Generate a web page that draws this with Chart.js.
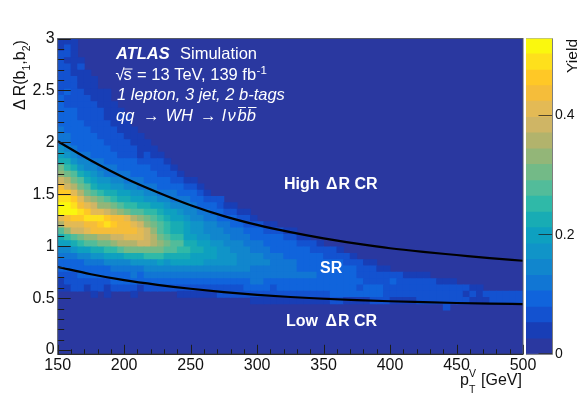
<!DOCTYPE html>
<html>
<head>
<meta charset="utf-8">
<style>
  html, body { margin: 0; padding: 0; background: #fff; }
  canvas { position: absolute; left: 0; top: 0; filter: blur(0.3px); }
</style>
<script src="https://cdn.jsdelivr.net/npm/chart.js@4"></script>
</head>
<body>
<canvas id="myChart" width="581" height="394"></canvas>
<canvas id="scaleChart" width="581" height="394"></canvas>
<script>
// tick values
const xTicks = [150, 200, 250, 300, 350, 400, 450, 500];
const xMinor = [160, 170, 180, 190, 210, 220, 230, 240, 260, 270, 280, 290, 310, 320, 330, 340, 360, 370, 380, 390, 410, 420, 430, 440, 460, 470, 480, 490];
const yTicks = [0, 0.5, 1, 1.5, 2, 2.5, 3];
const yMinor = [0.1, 0.2, 0.3, 0.4, 0.6, 0.7, 0.8, 0.9, 1.1, 1.2, 1.3, 1.4, 1.6, 1.7, 1.8, 1.9, 2.1, 2.2, 2.3, 2.4, 2.6, 2.7, 2.8, 2.9];
const zTicks = [0, 0.2, 0.4];

// colour bands of the yield scale, bottom to top
const levelEdges = [0, 0.026, 0.053, 0.079, 0.106, 0.132, 0.159, 0.185, 0.212, 0.238, 0.265, 0.291, 0.318, 0.344, 0.371, 0.397, 0.424, 0.45, 0.476, 0.503, 0.529];
const levelColors = ["rgb(42,56,160)", "rgb(24,62,182)", "rgb(19,82,208)", "rgb(16,100,220)", "rgb(17,118,212)", "rgb(17,134,205)", "rgb(16,148,200)", "rgb(14,160,192)", "rgb(24,172,180)", "rgb(47,185,168)", "rgb(82,188,154)", "rgb(115,186,135)", "rgb(147,182,120)", "rgb(178,179,108)", "rgb(207,181,101)", "rgb(227,186,85)", "rgb(245,189,58)", "rgb(255,200,38)", "rgb(254,224,28)", "rgb(250,248,14)"];

// the 2 curves between the regions
const curvePt = [150, 175, 200, 225, 250, 275, 300, 325, 350, 375, 400, 425, 450, 475, 500];
const upperCurve = [2.01, 1.825, 1.66, 1.52, 1.395, 1.29, 1.205, 1.135, 1.075, 1.025, 0.98, 0.945, 0.915, 0.885, 0.86];
const lowerCurve = [0.8, 0.73, 0.673, 0.628, 0.59, 0.558, 0.532, 0.511, 0.494, 0.481, 0.47, 0.461, 0.453, 0.447, 0.443];

// histogram: one list per dR bin from the bottom, one colour band per 5 GeV bin from 150 GeV
const yieldRows = [
  [], [], [], [], [], [], [],
  [0,0,0,0,0,0,0,0,0,0,0,0,0,0,0,0,0,0,0,0,0,0,0,0,0,0,0,0,0,0,0,0,0,0,0,0,0,0,0,0,0,0,0,0,0,0,0,0,0,0,0,0,0,0,0,0,0,0,2],
  [0,0,0,0,0,0,0,0,0,0,0,0,0,0,0,0,0,0,0,0,0,0,0,0,0,0,0,0,0,1,1,1,1,1,1,1,1,1,1,1,1,2,2,1,1,1,1,2,2,2,1,1,1,1,2,2,2,2,2,2,2,2,1,1,1,2,2,2,2,2],
  [0,0,0,0,0,1,0,1,0,0,0,1,0,0,0,0,0,0,1,1,1,1,1,1,2,2,2,2,2,2,2,2,2,2,2,2,2,2,2,2,2,3,3,3,3,3,3,3,3,2,2,2,2,2,2,2,2,2,2,2,2,1,2,1,2,2,2,2,2,2],
  [1,1,2,2,1,2,2,1,2,2,2,2,1,2,2,2,2,2,2,2,2,2,2,2,2,2,2,2,3,3,3,3,2,3,3,3,3,3,3,3,3,3,3,3,3,2,3,3,3,2,2,2,2,2,2,2,2,2,2,2,2,2,1,1],
  [1,2,2,2,2,2,2,2,3,3,3,3,3,3,3,3,3,3,3,3,3,3,3,3,3,3,3,3,3,4,4,3,3,3,3,3,3,3,3,3,3,3,3,3,3,3,2,2,2,2,3,2,2,2,2,2,2,1,1,1],
  [2,2,2,3,3,3,3,3,3,3,3,4,3,4,4,4,4,4,4,4,4,4,4,4,4,4,4,4,4,4,4,4,4,4,4,4,4,4,4,3,3,3,3,3,3,2,2,2,2,2,2,2,1,1,1,1],
  [3,3,3,3,3,3,3,3,4,4,4,4,4,5,5,5,5,5,5,5,5,5,5,5,5,5,5,5,5,4,4,4,4,4,4,4,3,3,3,3,3,3,3,3,3,2,2,2,1,1],
  [3,3,3,3,4,4,4,5,5,5,5,6,6,6,6,7,6,7,7,7,7,7,6,6,6,6,6,5,5,5,5,5,4,4,4,4,3,3,3,3,3,3,3,2,2,2,1,1],
  [4,4,4,5,5,6,6,7,7,7,8,8,8,9,9,9,8,8,8,8,7,7,7,7,6,6,6,5,5,5,5,4,4,4,3,3,3,3,3,3,2,2,2,2,1],
  [5,5,6,7,7,8,8,9,9,10,11,11,11,11,11,11,10,10,9,9,8,8,7,7,6,6,5,5,5,4,4,4,3,3,3,3,3,3,2,2,2,2,1],
  [7,7,8,9,10,10,11,11,12,13,13,13,14,14,13,12,11,10,10,8,8,7,7,6,6,5,5,5,4,4,4,3,3,3,3,3,2,2,2,1],
  [8,9,10,11,12,12,13,13,14,14,15,15,15,14,13,11,10,9,9,7,7,6,6,5,5,5,4,4,4,3,3,3,3,3,2,2,1,1],
  [10,12,14,14,15,16,16,16,16,16,16,16,15,14,12,10,9,8,8,7,6,6,5,5,5,4,4,4,3,3,3,2,2,2,1,1],
  [13,15,15,15,16,16,17,18,17,16,16,15,14,12,11,10,9,8,8,7,6,6,5,5,4,4,3,3,2,2,2,1,1],
  [15,16,17,17,18,18,18,17,16,16,15,13,12,11,10,9,8,7,7,6,5,5,4,4,3,3,3,2,2,1],
  [19,19,19,18,17,15,15,14,13,12,11,10,10,9,9,8,7,7,6,5,5,4,4,3,3,2,2,1,1],
  [19,19,18,16,15,14,12,12,11,10,9,9,8,8,7,7,6,5,5,5,4,3,3,3,2,1,1],
  [18,18,17,15,13,12,11,10,9,8,8,7,7,6,6,5,5,4,4,4,3,3,2,2,2],
  [17,17,15,13,11,10,9,8,8,7,7,6,6,5,5,4,4,4,3,3,3,2,1],
  [16,14,13,11,10,8,7,7,6,6,5,5,4,4,4,3,3,3,3,2,2,1],
  [14,13,11,10,8,7,6,6,5,5,4,4,4,3,3,3,3,2,2,1,1],
  [12,11,10,8,7,6,5,4,4,4,4,3,3,3,3,2,2,2,1],
  [11,9,8,6,5,5,4,4,4,3,3,3,3,3,2,2,2,1],
  [8,8,6,5,5,4,4,3,3,3,3,3,2,2,2,2,1],
  [7,6,5,4,4,3,3,3,3,2,2,2,1,2,1,1],
  [6,5,4,3,3,3,3,3,2,2,2,2,1,1,1],
  [4,4,3,3,3,3,3,2,2,2,2,1,1,1],
  [4,4,3,3,3,3,2,2,2,2,1,1,1],
  [4,3,3,3,3,2,2,2,2,1,1,1],
  [3,3,3,3,2,2,2,2,1,1,1],
  [3,3,3,2,2,2,2,1,1,1,1],
  [3,3,3,2,2,2,2,1,1,1],
  [3,2,2,2,2,2,1,1,1],
  [3,2,2,2,2,1,1,1],
  [2,3,2,2,1,1,1,1],
  [2,2,2,1,1,1],
  [2,2,2,1,1,1],
  [2,2,1,1,1],
  [2,2,1,2],
  [2,1,1,1],
  [2,2,1],
  [1,2,1],
  [1,1,1]
];

const ptStart = 150;
const ptBin = 5;
const dRStart = -0.041;
const dRBin = 0.0608;

const TEXT_FONT = '"Liberation Sans", Arial, sans-serif';

function heatDataset(row, r) {
    const cells = [];
    const colors = [];
    row.forEach((level, c) => {
        if (level == 0) return;
        cells.push({ x: ptStart + ptBin * (c + 0.5), y: [dRStart + dRBin * r, dRStart + dRBin * (r + 1)] });
        colors.push(levelColors[level]);
    });
    return {
        type: "bar",
        stack: "heat",
        order: 1,
        data: cells,
        backgroundColor: colors,
        borderWidth: 0,
        inflateAmount: 0.4,
        barPercentage: 1,
        categoryPercentage: 1
    };
}

function curveDataset(values) {
    return {
        type: "line",
        order: 0,
        data: curvePt.map((pt, i) => ({ x: pt, y: values[i] })),
        borderColor: "#000",
        borderWidth: 2.2,
        pointRadius: 0,
        cubicInterpolationMode: "monotone"
    };
}

// writes pieces of text one after the other, for the sub and superscripts
function drawRun(ctx, parts, x, y) {
    parts.forEach((p) => {
        ctx.font = p.font;
        ctx.fillText(p.text, x, y + (p.dy || 0));
        x += ctx.measureText(p.text).width + (p.gap || 0);
    });
}

const plotDecor = {
    id: "plotDecor",
    beforeDatasetsDraw(chart) {
        const { ctx, chartArea: a } = chart;
        ctx.save();
        ctx.fillStyle = levelColors[0];
        ctx.fillRect(a.left, a.top, a.right - a.left, a.bottom - a.top);
        ctx.restore();
    },
    afterDraw(chart) {
        const { ctx, chartArea: a, scales } = chart;
        ctx.save();

        // ticks go inside the frame
        ctx.strokeStyle = "#1c1c1c";
        ctx.lineWidth = 1;
        ctx.beginPath();
        const xMark = (v, len) => {
            const px = Math.round(scales.x.getPixelForValue(v)) + 0.5;
            ctx.moveTo(px, a.bottom);
            ctx.lineTo(px, a.bottom - len);
        };
        const yMark = (v, len) => {
            const py = Math.round(scales.y.getPixelForValue(v)) + 0.5;
            ctx.moveTo(a.left, py);
            ctx.lineTo(a.left + len, py);
        };
        xTicks.forEach((v) => xMark(v, 9.5));
        xMinor.forEach((v) => xMark(v, 5));
        yTicks.forEach((v) => yMark(v, 13));
        yMinor.forEach((v) => yMark(v, 6.5));
        ctx.stroke();

        ctx.strokeStyle = "#555a66";
        ctx.strokeRect(a.left, a.top, a.right - a.left, a.bottom - a.top);
        ctx.strokeStyle = "#1c1c1c";
        ctx.beginPath();
        ctx.moveTo(a.left, a.bottom);
        ctx.lineTo(a.right, a.bottom);
        ctx.stroke();

        // text over the histogram
        const sans = "16.5px " + TEXT_FONT;
        const ital = "italic 16.5px " + TEXT_FONT;
        const bold = "bold 16px " + TEXT_FONT;
        ctx.fillStyle = "#fff";
        ctx.strokeStyle = "#fff";
        ctx.textAlign = "left";
        ctx.textBaseline = "alphabetic";
        drawRun(ctx, [{ text: "ATLAS", font: "italic bold 16.5px " + TEXT_FONT }], 116, 59.3);
        drawRun(ctx, [{ text: "Simulation", font: sans }], 180, 59.3);
        drawRun(ctx, [{ text: "√", font: sans }], 115.5, 79.8);
        drawRun(ctx, [{ text: "s", font: sans }], 123.5, 79.8);
        drawRun(ctx, [
            { text: "= 13 TeV, 139 fb", font: sans, gap: 0.5 },
            { text: "-1", font: "11.5px " + TEXT_FONT, dy: -6 }
        ], 137, 79.8);
        drawRun(ctx, [{ text: "1 lepton, 3 jet, 2 b-tags", font: ital }], 117, 100.3);
        drawRun(ctx, [{ text: "qq", font: ital }], 116, 120.8);
        drawRun(ctx, [{ text: "→", font: sans }], 143, 120.8);
        drawRun(ctx, [{ text: "WH", font: ital }], 165.5, 120.8);
        drawRun(ctx, [{ text: "→", font: sans }], 200, 120.8);
        drawRun(ctx, [{ text: "l", font: ital }], 222, 120.8);
        drawRun(ctx, [{ text: "ν", font: ital }], 227.5, 120.8);
        drawRun(ctx, [{ text: "bb", font: ital }], 237.5, 120.8);
        ctx.lineWidth = 1;
        ctx.beginPath();
        ctx.moveTo(124, 69);
        ctx.lineTo(132.5, 69);
        ctx.moveTo(238, 107.5);
        ctx.lineTo(246, 107.5);
        ctx.moveTo(248, 107.5);
        ctx.lineTo(256.5, 107.5);
        ctx.stroke();

        drawRun(ctx, [
            { text: "High ", font: bold, gap: 2 },
            { text: "Δ", font: bold, gap: 1 },
            { text: "R CR", font: bold }
        ], 284, 189);
        drawRun(ctx, [{ text: "SR", font: bold }], 320, 273.3);
        drawRun(ctx, [
            { text: "Low ", font: bold, gap: 3 },
            { text: "Δ", font: bold, gap: 1 },
            { text: "R CR", font: bold }
        ], 286, 325.7);

        // axis titles
        const title = "16px " + TEXT_FONT;
        const sub = "10.5px " + TEXT_FONT;
        ctx.fillStyle = "#111";
        drawRun(ctx, [{ text: "p", font: title }], 460, 385);
        drawRun(ctx, [{ text: "V", font: sub }], 469, 377);
        drawRun(ctx, [{ text: "T", font: sub }], 469, 393);
        drawRun(ctx, [{ text: "[GeV]", font: title }], 481, 385);

        ctx.translate(25, 110);
        ctx.rotate(-Math.PI / 2);
        drawRun(ctx, [
            { text: "Δ", font: title, gap: 3 },
            { text: "R(b", font: title },
            { text: "1", font: sub, dy: 5 },
            { text: ",b", font: title },
            { text: "2", font: sub, dy: 5 },
            { text: ")", font: title }
        ], 0, 0);
        ctx.restore();
    }
};

const barDecor = {
    id: "barDecor",
    beforeDatasetsDraw(chart) {
        const { ctx, chartArea: a } = chart;
        ctx.save();
        ctx.fillStyle = levelColors[0];
        ctx.fillRect(a.left, a.top, a.right - a.left, a.bottom - a.top);
        ctx.restore();
    },
    afterDraw(chart) {
        const { ctx, chartArea: a, scales } = chart;
        ctx.save();
        ctx.strokeStyle = "rgba(30,30,30,0.75)";
        ctx.lineWidth = 1;
        ctx.beginPath();
        zTicks.forEach((v) => {
            const py = Math.round(scales.y.getPixelForValue(v)) - 0.5;
            ctx.moveTo(a.right, py);
            ctx.lineTo(a.right - 14, py);
        });
        ctx.stroke();
        ctx.strokeStyle = "#7d7d7d";
        ctx.beginPath();
        ctx.moveTo(a.left, a.bottom);
        ctx.lineTo(a.right, a.bottom);
        ctx.lineTo(a.right, a.top);
        ctx.stroke();

        ctx.fillStyle = "#111";
        ctx.font = "15.5px " + TEXT_FONT;
        ctx.textAlign = "right";
        ctx.textBaseline = "alphabetic";
        ctx.translate(577, 39);
        ctx.rotate(-Math.PI / 2);
        ctx.fillText("Yield", 0, 0);
        ctx.restore();
    }
};

const scaleBox = (width, height) => (scale) => {
    if (width) scale.width = width;
    if (height) scale.height = height;
    scale.paddingLeft = 0;
    scale.paddingRight = 0;
    scale.paddingTop = 0;
    scale.paddingBottom = 0;
};

const myChart = new Chart(document.querySelector("#myChart"), {
    data: {
        datasets: yieldRows.filter((row) => row.length > 0)
            .map((row) => heatDataset(row, yieldRows.indexOf(row)))
            .concat([curveDataset(upperCurve), curveDataset(lowerCurve)])
    },
    options: {
        responsive: false,
        animation: false,
        layout: { padding: { top: 38.5, right: 58, bottom: 0, left: 0 } },
        plugins: { legend: { display: false }, tooltip: { enabled: false } },
        scales: {
            x: {
                type: "linear",
                stacked: true,
                offset: false,
                min: 150,
                max: 500,
                grid: { display: false, drawTicks: false, offset: false },
                border: { display: false },
                afterBuildTicks: (scale) => { scale.ticks = xTicks.map((v) => ({ value: v })); },
                afterFit: scaleBox(0, 39.7),
                ticks: {
                    autoSkip: false,
                    maxRotation: 0,
                    padding: 2,
                    color: "#111",
                    font: { family: TEXT_FONT, size: 16 },
                    callback: (v) => String(v)
                }
            },
            y: {
                type: "linear",
                stacked: false,
                min: dRStart,
                max: 3,
                grid: { display: false, drawTicks: false },
                border: { display: false },
                afterBuildTicks: (scale) => { scale.ticks = yTicks.map((v) => ({ value: v })); },
                afterFit: scaleBox(57.7, 0),
                ticks: {
                    autoSkip: false,
                    padding: 3,
                    color: "#111",
                    font: { family: TEXT_FONT, size: 16 },
                    callback: (v) => String(v)
                }
            }
        }
    },
    plugins: [plotDecor]
});

const scaleChart = new Chart(document.querySelector("#scaleChart"), {
    type: "bar",
    data: {
        labels: ["Yield"],
        datasets: levelColors.map((color, i) => ({
            stack: "bands",
            data: [[levelEdges[i], levelEdges[i + 1]]],
            backgroundColor: color,
            borderWidth: 0,
            inflateAmount: 0.4,
            barPercentage: 1,
            categoryPercentage: 1
        }))
    },
    options: {
        responsive: false,
        animation: false,
        layout: { padding: { top: 38.5, right: 0, bottom: 39.7, left: 526 } },
        plugins: { legend: { display: false }, tooltip: { enabled: false } },
        scales: {
            x: { display: false, stacked: true },
            y: {
                type: "linear",
                position: "right",
                stacked: false,
                min: 0,
                max: 0.529,
                grid: { display: false, drawTicks: false },
                border: { display: false },
                afterBuildTicks: (scale) => { scale.ticks = zTicks.map((v) => ({ value: v })); },
                afterFit: scaleBox(28.5, 0),
                ticks: {
                    autoSkip: false,
                    padding: 2.5,
                    color: "#111",
                    font: { family: TEXT_FONT, size: 14 },
                    callback: (v) => String(v)
                }
            }
        }
    },
    plugins: [barDecor]
});
</script>
</body>
</html>
